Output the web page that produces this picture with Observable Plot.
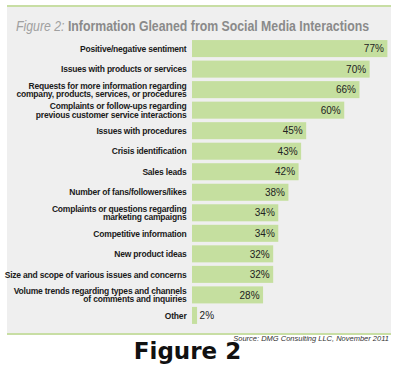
<!DOCTYPE html>
<html><head><meta charset="utf-8">
<script src="https://cdn.jsdelivr.net/npm/d3@7"></script>
<script src="https://cdn.jsdelivr.net/npm/@observablehq/plot@0.6"></script>
<style>
body{margin:0;background:#fff;}
#wrap{position:relative;width:400px;height:369px;overflow:hidden;background:#fff;}
#panel{position:absolute;left:7px;top:5px;width:384px;height:326px;background:#efefef;border-top:2px solid #c8dea4;border-bottom:2px solid #c8dea4;}
#title{position:absolute;left:16px;top:19px;line-height:14px;font-family:"Liberation Sans",sans-serif;font-size:14px;color:#8a8a8a;white-space:nowrap;transform-origin:0 0;}
#title i{font-weight:normal;color:#a0a0a0;}
#title b{font-weight:bold;}
#chart{position:absolute;left:0;top:36px;line-height:0;}
#chart svg{display:block;}
#source{position:absolute;right:11px;top:335px;line-height:8px;font-family:"Liberation Sans",sans-serif;font-style:italic;font-size:7.5px;color:#333;white-space:nowrap;}
#fig{position:absolute;left:0;width:375px;text-align:center;top:340px;line-height:23px;font-family:"DejaVu Sans",sans-serif;font-weight:bold;font-size:23px;color:#111;}
</style></head>
<body>
<div id="wrap">
<div id="panel"></div>
<div id="title"><i>Figure 2:</i> <b>Information Gleaned from Social Media Interactions</b></div>
<div id="chart"></div>
<div id="source">Source: DMG Consulting LLC, November 2011</div>
<div id="fig">Figure 2</div>
</div>
<script>
const categories = [
  "Positive/negative sentiment",
  "Issues with products or services",
  "Requests for more information regarding\ncompany, products, services, or procedures",
  "Complaints or follow-ups regarding\nprevious customer service interactions",
  "Issues with procedures",
  "Crisis identification",
  "Sales leads",
  "Number of fans/followers/likes",
  "Complaints or questions regarding\nmarketing campaigns",
  "Competitive information",
  "New product ideas",
  "Size and scope of various issues and concerns",
  "Volume trends regarding types and channels\nof comments and inquiries",
  "Other"
];
const values = [77, 70, 66, 60, 45, 43, 42, 38, 34, 34, 32, 32, 28, 2];

const data = categories.map((c, i) => ({category: c, value: values[i]}));

const chart = Plot.plot({
  width: 400,
  height: 290,
  marginLeft: 192,
  marginRight: 5,
  marginTop: 2,
  marginBottom: 0,
  style: {background: "transparent", overflow: "visible"},
  x: {domain: [0, 80], axis: null},
  y: {domain: categories, padding: 0.17, paddingOuter: 0.1, round: false, axis: null},
  marks: [
    Plot.barX(data, {x: "value", y: "category", fill: "#c5df9f"}),
    Plot.text(data, {x: 0, y: "category", text: "category", textAnchor: "end", dx: -6,
      fontFamily: "'Liberation Sans',sans-serif", fontWeight: "bold",
      fontSize: 8.5, fill: "#1a1a1a", lineHeight: 1.0}),
    Plot.text(data.filter(d => d.value >= 10), {x: "value", y: "category", text: d => d.value + "%",
      textAnchor: "end", dx: -4, fontFamily: "'Liberation Sans',sans-serif", fontSize: 10, fill: "#222"}),
    Plot.text(data.filter(d => d.value < 10), {x: "value", y: "category", text: d => d.value + "%",
      textAnchor: "start", dx: 2, fontFamily: "'Liberation Sans',sans-serif", fontSize: 10, fill: "#222"})
  ]
});
document.getElementById("chart").appendChild(chart);
const labelGroup = chart.querySelectorAll('g[aria-label="text"]')[0];
if (labelGroup) labelGroup.style.letterSpacing = "-0.2px";

const t = document.getElementById("title");
const w = t.getBoundingClientRect().width;
t.style.transform = `scaleX(${353 / w})`;
</script>
</body></html>
